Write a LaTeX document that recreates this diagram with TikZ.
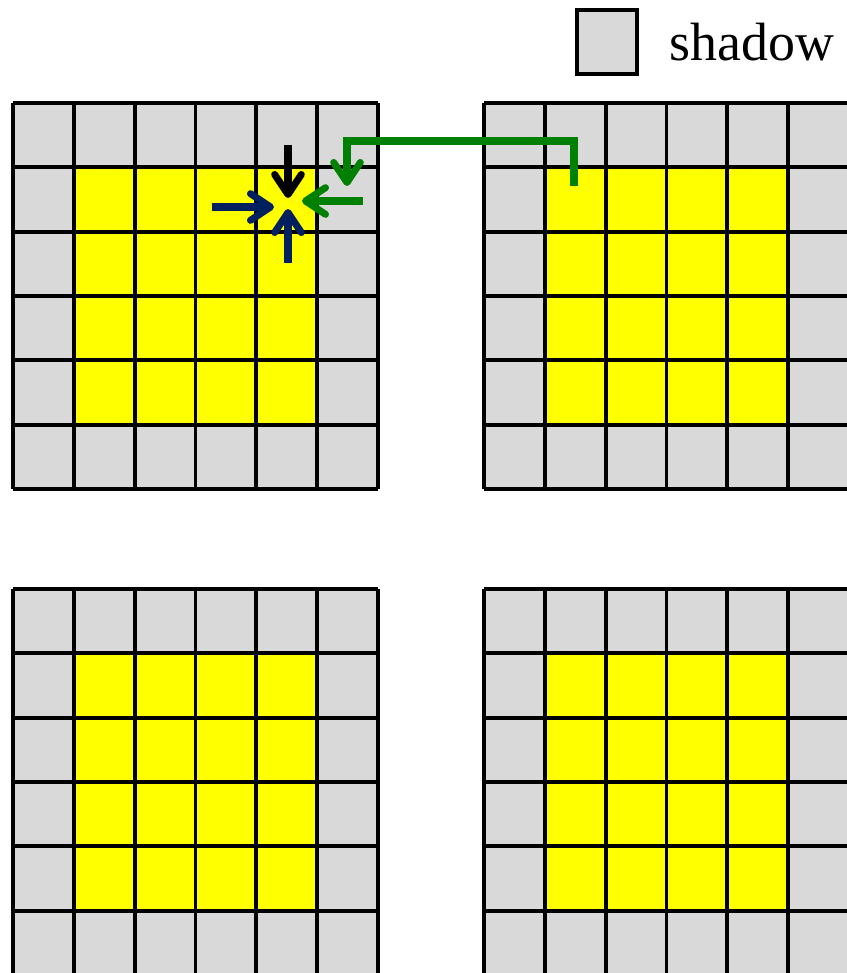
\documentclass[tikz,border=0pt]{standalone}
\usepackage{fontspec}
\setmainfont{Liberation Serif}
\usetikzlibrary{arrows.meta,positioning}
\definecolor{shadowgray}{HTML}{D9D9D9}
\definecolor{cellyellow}{HTML}{FFFF00}
\definecolor{arrowblue}{HTML}{002060}
\definecolor{arrowgreen}{HTML}{008000}

\begin{document}
\begin{tikzpicture}[x=.3mm,y=-.3mm,
		gridline/.style={line width=3.4pt,black},
		legendbox/.style={draw,line width=4pt,fill=shadowgray,minimum width=18mm,minimum height=19.2mm,inner sep=0pt},
		flow/.style={line width=6pt,-{Straight Barb[length=6mm,width=8mm,round]}}]
	\clip (0,0) rectangle (847,973);
	% four 6x6 grids, shadow ring round a 4x4 core
	\foreach \gx/\gy in {13/103,484/103,13/589,484/589}{
		\fill[shadowgray] (\gx,\gy) rectangle ++(365,386);
		\fill[cellyellow] (\gx+60.83,\gy+64.33) rectangle ++(243.33,257.33);
		\foreach \k in {0,...,6}{
			\draw[gridline] (\gx+\k*60.83,\gy) -- ++(0,386);
			\draw[gridline] (\gx,\gy+\k*64.33) -- ++(365,0);
		}
	}
	% legend
	\node[legendbox] (leg) at (607,42) {};
	\node[right=9mm of leg,font=\fontsize{46}{50}\selectfont,inner sep=0pt] (legtext) {shadow};
	% neighbour accesses
	\coordinate (ktop) at (288,145);
	\coordinate (ktip) at (288,198);
	\coordinate (lsrc) at (212,207);
	\coordinate (ltip) at (274,207);
	\coordinate (usrc) at (288,263);
	\coordinate (utip) at (288,209);
	\coordinate (rsrc) at (363,201);
	\coordinate (rtip) at (302,201);
	\coordinate (wsrc) at (574,186);
	\coordinate (wbend) at (347,141);
	\coordinate (wtip) at (347,186);
	\draw[flow,black] (ktop) -- (ktip);
	\foreach \a/\b in {lsrc/ltip,usrc/utip}
		{\draw[flow,arrowblue] (\a) -- (\b);}
	\draw[flow,arrowgreen] (rsrc) -- (rtip);
	\draw[flow,arrowgreen] (wsrc) |- (wbend) -- (wtip);
\end{tikzpicture}
\end{document}
